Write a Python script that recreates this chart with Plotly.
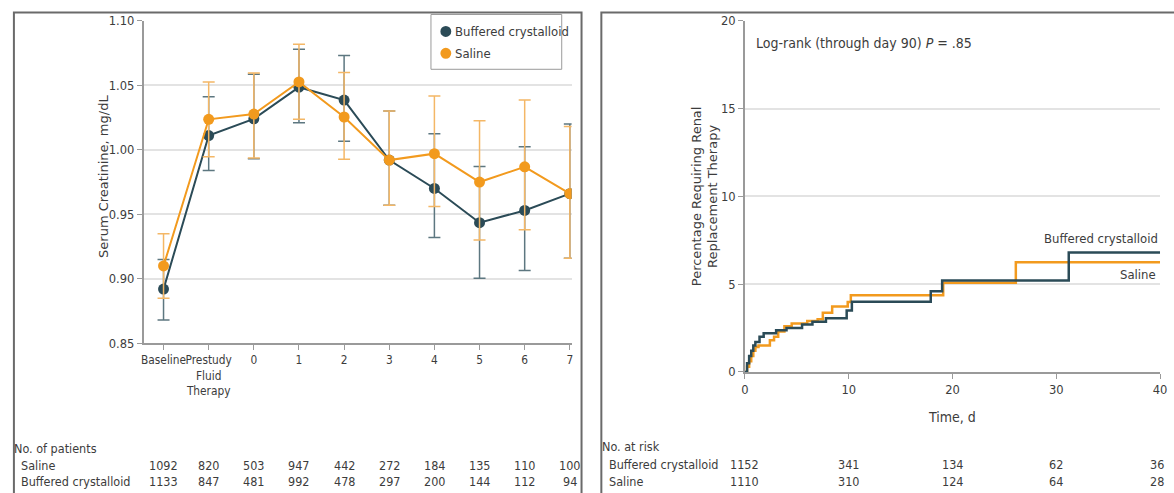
import plotly.graph_objects as go

W, H = 1174, 493
# Empirical calibration of where the photographed page lands (offset, scale) so that
# target pixel positions read from the reference can be reproduced.
AX, SX = 0.0, 1.0
AY, SY = 6.5, 0.973

# ---------------- Data: left panel (serum creatinine) ----------------
categories = ["Baseline", "Prestudy Fluid Therapy", "0", "1", "2", "3", "4", "5", "6", "7"]
tick_labels = ["Baseline", "Prestudy<br>Fluid<br>Therapy", "0", "1", "2", "3", "4", "5", "6", "7"]

buffered_mean = [0.892, 1.011, 1.024, 1.0485, 1.0385, 0.992, 0.970, 0.9435, 0.953, 0.966]
buffered_upper = [0.915, 1.041, 1.0585, 1.078, 1.073, 1.030, 1.0125, 0.987, 1.0024, 1.020]
buffered_lower = [0.868, 0.984, 0.993, 1.021, 1.0066, 0.957, 0.932, 0.9005, 0.9065, 0.916]

saline_mean = [0.910, 1.0236, 1.0277, 1.0526, 1.0254, 0.992, 0.997, 0.975, 0.9868, 0.966]
saline_upper = [0.935, 1.0526, 1.0595, 1.0817, 1.0599, 1.030, 1.0416, 1.0225, 1.0385, 1.018]
saline_lower = [0.885, 0.9945, 0.9937, 1.0236, 0.9927, 0.957, 0.956, 0.930, 0.938, 0.916]

n_saline = [1092, 820, 503, 947, 442, 272, 184, 135, 110, 100]
n_buffered = [1133, 847, 481, 992, 478, 297, 200, 144, 112, 94]

legend_names = ["Buffered crystalloid", "Saline"]

# ---------------- Data: right panel (renal replacement therapy) ----------------
km_buffered_t = [0, 0.2, 0.4, 0.6, 0.8, 1.0, 1.4, 1.8, 3.0, 4.0, 5.5, 6.5, 7.8, 9.8, 10.3, 17.9, 19.0, 31.2, 40]
km_buffered_v = [0, 0.5, 0.9, 1.2, 1.5, 1.7, 2.0, 2.2, 2.37, 2.5, 2.7, 2.85, 3.05, 3.5, 4.0, 4.6, 5.2, 6.8, 6.8]

km_saline_t = [0, 0.2, 0.4, 0.6, 0.8, 1.0, 1.3, 2.4, 2.8, 3.2, 3.8, 4.5, 6.0, 7.0, 7.5, 8.4, 9.9, 10.2, 19.1, 26.1, 40]
km_saline_v = [0, 0.3, 0.6, 0.9, 1.2, 1.42, 1.5, 1.8, 2.0, 2.3, 2.6, 2.75, 2.9, 3.0, 3.37, 3.73, 3.98, 4.36, 5.08, 6.25, 6.25]

risk_times = [0, 10, 20, 30, 40]
risk_buffered = [1152, 341, 134, 62, 36]
risk_saline = [1110, 310, 124, 64, 28]

TEAL = "#2b4b57"
TEAL_ERR = "#5d7780"
ORANGE = "#f29a1e"
ORANGE_ERR = "#f4b766"
GRID = "#e3e3e3"
AXIS = "#9a9a9a"
TXT = "#3c3c3c"
COND = "Liberation Sans Narrow, DejaVu Sans Condensed, Arial Narrow, sans-serif"
WIDE = "DejaVu Sans, Verdana, sans-serif"
FS = 12.5


def px(xp):
    return min(1.0, max(0.0, ((xp - AX) / SX) / W))


def py(yp):
    return 1 - ((yp - AY) / SY) / H


idx = list(range(len(categories)))

fig = go.Figure()

fig.add_trace(go.Scatter(
    x=idx, y=buffered_mean, name=legend_names[0],
    mode="lines+markers", showlegend=False,
    line=dict(color=TEAL, width=2),
    marker=dict(color=TEAL, size=11),
    error_y=dict(type="data", symmetric=False,
                 array=[u - m for u, m in zip(buffered_upper, buffered_mean)],
                 arrayminus=[m - l for m, l in zip(buffered_mean, buffered_lower)],
                 color=TEAL_ERR, thickness=1.5, width=6),
    xaxis="x", yaxis="y",
))
fig.add_trace(go.Scatter(
    x=idx, y=saline_mean, name=legend_names[1],
    mode="lines+markers", showlegend=False,
    line=dict(color=ORANGE, width=2),
    marker=dict(color=ORANGE, size=11),
    error_y=dict(type="data", symmetric=False,
                 array=[u - m for u, m in zip(saline_upper, saline_mean)],
                 arrayminus=[m - l for m, l in zip(saline_mean, saline_lower)],
                 color=ORANGE_ERR, thickness=1.5, width=6),
    xaxis="x", yaxis="y",
))

fig.add_trace(go.Scatter(
    x=km_saline_t, y=km_saline_v, mode="lines", line=dict(color=ORANGE, width=2.5, shape="hv"),
    showlegend=False, xaxis="x2", yaxis="y2",
))
fig.add_trace(go.Scatter(
    x=km_buffered_t, y=km_buffered_v, mode="lines", line=dict(color=TEAL, width=2.5, shape="hv"),
    showlegend=False, xaxis="x2", yaxis="y2",
))

axis_common = dict(showline=True, linecolor=AXIS, linewidth=1.5, ticks="outside",
                   ticklen=5, tickcolor=AXIS, zeroline=False, tickangle=0)

fig.update_layout(
    width=W, height=H, margin=dict(l=0, r=0, t=0, b=0),
    paper_bgcolor="white", plot_bgcolor="white", showlegend=False,
    xaxis=dict(domain=[px(141), px(573)], range=[-0.44, 9.04],
               tickvals=idx, ticktext=tick_labels, showgrid=False, anchor="y",
               tickfont=dict(family=COND, size=11.8, color=TXT), **axis_common),
    yaxis=dict(domain=[py(343), py(19.3)], range=[0.85, 1.10], dtick=0.05, tickformat=".2f",
               showgrid=True, gridcolor=GRID, gridwidth=1.5, anchor="x",
               tickfont=dict(family=COND, size=12.8, color=TXT), **axis_common),
    xaxis2=dict(domain=[px(748), px(1167)], range=[0, 40], dtick=10, showgrid=False,
                anchor="y2", tickfont=dict(family=COND, size=12.8, color=TXT), **axis_common),
    yaxis2=dict(domain=[py(371.7), py(19.3)], range=[0, 20], dtick=5,
                showgrid=True, gridcolor=GRID, gridwidth=1.5, anchor="x2",
                tickfont=dict(family=COND, size=12.8, color=TXT), **axis_common),
)

shapes = []
# Panel borders
shapes.append(dict(type="rect", xref="paper", yref="paper", x0=px(10), x1=px(583), y0=-0.1, y1=py(11),
                   line=dict(color="#6a6a6a", width=2)))
shapes.append(dict(type="rect", xref="paper", yref="paper", x0=px(603), x1=1.1, y0=-0.1, y1=py(11),
                   line=dict(color="#6a6a6a", width=2)))
# Legend box and symbols (left panel)
shapes.append(dict(type="rect", xref="paper", yref="paper", x0=px(431), x1=px(563), y0=py(68), y1=py(13),
                   line=dict(color="#9a9a9a", width=1), fillcolor="white", layer="above"))
for yy, col in [(30, TEAL), (52, ORANGE)]:
    shapes.append(dict(type="circle", xref="paper", yref="paper", x0=px(440.5), x1=px(451.5),
                       y0=py(yy + 5.5), y1=py(yy - 5.5), line=dict(color=col, width=0),
                       fillcolor=col, layer="above"))
fig.update_layout(shapes=shapes)

ann = []
txt_font = dict(family=COND, size=FS, color=TXT)
for yy, nm in zip([30, 52], legend_names):
    ann.append(dict(x=px(453), y=py(yy), xref="paper", yref="paper", text=nm,
                    xanchor="left", yanchor="middle", showarrow=False,
                    font=dict(family=COND, size=13, color=TXT)))

# Axis titles
ann.append(dict(x=px(101), y=py(176), xref="paper", yref="paper", text="Serum Creatinine, mg/dL",
                textangle=-90, xanchor="center", yanchor="middle", showarrow=False,
                font=dict(family=WIDE, size=13, color=TXT)))
ann.append(dict(x=px(707), y=py(195), xref="paper", yref="paper",
                text="Percentage Requiring Renal<br>Replacement Therapy",
                textangle=-90, xanchor="center", yanchor="middle", showarrow=False,
                font=dict(family=WIDE, size=13, color=TXT)))
ann.append(dict(x=px(957), y=py(417), xref="paper", yref="paper", text="Time, d",
                xanchor="center", yanchor="middle", showarrow=False,
                font=dict(family=COND, size=14, color=TXT)))

# Left table
left_rows_y = [449, 466, 482]
ann.append(dict(x=px(8), y=py(left_rows_y[0]), xref="paper", yref="paper", text="No. of patients",
                xanchor="left", yanchor="middle", showarrow=False, font=txt_font))
ann.append(dict(x=px(15), y=py(left_rows_y[1]), xref="paper", yref="paper", text="Saline",
                xanchor="left", yanchor="middle", showarrow=False, font=txt_font))
ann.append(dict(x=px(15), y=py(left_rows_y[2]), xref="paper", yref="paper", text="Buffered crystalloid",
                xanchor="left", yanchor="middle", showarrow=False, font=txt_font))
for i, a, b in zip(idx, n_saline, n_buffered):
    ann.append(dict(x=i, y=py(left_rows_y[1]), xref="x", yref="paper", text=str(a), xanchor="center",
                    yanchor="middle", showarrow=False, font=txt_font))
    ann.append(dict(x=i, y=py(left_rows_y[2]), xref="x", yref="paper", text=str(b), xanchor="center",
                    yanchor="middle", showarrow=False, font=txt_font))

# Right table
right_rows_y = [447, 465, 482]
ann.append(dict(x=px(602), y=py(right_rows_y[0]), xref="paper", yref="paper", text="No. at risk",
                xanchor="left", yanchor="middle", showarrow=False, font=txt_font))
ann.append(dict(x=px(609), y=py(right_rows_y[1]), xref="paper", yref="paper", text="Buffered crystalloid",
                xanchor="left", yanchor="middle", showarrow=False, font=txt_font))
ann.append(dict(x=px(609), y=py(right_rows_y[2]), xref="paper", yref="paper", text="Saline",
                xanchor="left", yanchor="middle", showarrow=False, font=txt_font))
for t, a, b in zip(risk_times, risk_buffered, risk_saline):
    last = t == risk_times[-1]
    ann.append(dict(x=t, y=py(right_rows_y[1]), xref="x2", yref="paper", text=str(a),
                    xanchor="right" if last else "center", xshift=6 if last else 0,
                    yanchor="middle", showarrow=False, font=txt_font))
    ann.append(dict(x=t, y=py(right_rows_y[2]), xref="x2", yref="paper", text=str(b),
                    xanchor="right" if last else "center", xshift=6 if last else 0,
                    yanchor="middle", showarrow=False, font=txt_font))

# Right panel labels
ann.append(dict(x=px(757), y=py(42), xref="paper", yref="paper",
                text="Log-rank (through day 90) <i>P</i> = .85",
                xanchor="left", yanchor="middle", showarrow=False,
                font=dict(family=COND, size=14, color=TXT)))
ann.append(dict(x=40, y=km_buffered_v[-1], xref="x2", yref="y2", text="Buffered crystalloid",
                xanchor="right", yanchor="bottom", yshift=5, showarrow=False,
                font=dict(family=COND, size=13, color=TXT)))
ann.append(dict(x=40, y=km_saline_v[-1], xref="x2", yref="y2", text="Saline",
                xanchor="right", yanchor="top", yshift=-3, xshift=-2, showarrow=False,
                font=dict(family=COND, size=13, color=TXT)))

fig.update_layout(annotations=ann)

fig.write_html("out.html")
